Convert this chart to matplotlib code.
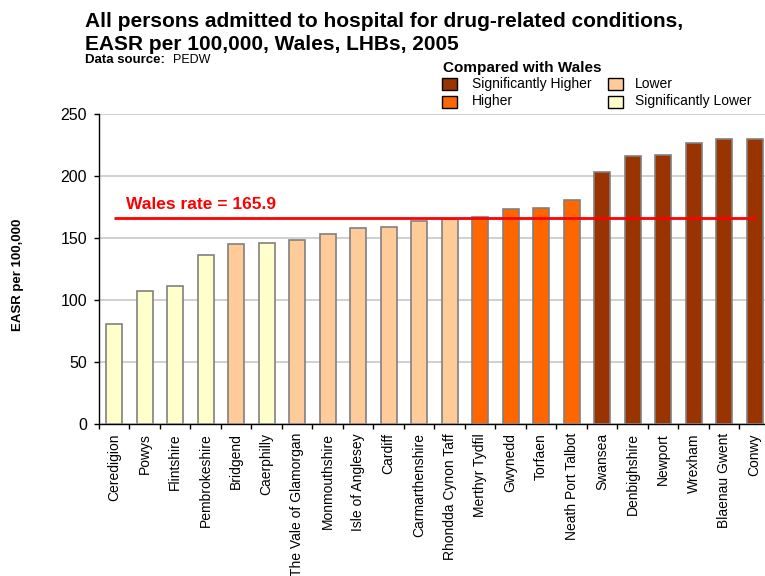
import matplotlib.pyplot as plt
import numpy as np
from matplotlib.patches import Rectangle

plt.rcParams['font.family'] = ['Liberation Sans', 'DejaVu Sans']

areas = ["Ceredigion", "Powys", "Flintshire", "Pembrokeshire", "Bridgend", "Caerphilly",
         "The Vale of Glamorgan", "Monmouthshire", "Isle of Anglesey", "Cardiff",
         "Carmarthenshire", "Rhondda Cynon Taff", "Merthyr Tydfil", "Gwynedd", "Torfaen",
         "Neath Port Talbot", "Swansea", "Denbighshire", "Newport", "Wrexham",
         "Blaenau Gwent", "Conwy"]
rates = [80.3, 107.1, 111.5, 136.6, 144.8, 145.6, 148.4, 153.2, 157.8, 158.6,
         164.0, 165.1, 167.0, 173.0, 173.8, 180.3, 203.0, 216.2, 217.3, 227.0,
         229.5, 229.5]
# 0 = significantly lower, 1 = lower, 2 = higher, 3 = significantly higher
groups = [0, 0, 0, 0, 1, 0, 1, 1, 1, 1, 1, 1, 2, 2, 2, 2, 3, 3, 3, 3, 3, 3]
group_names = ["Significantly Lower", "Lower", "Higher", "Significantly Higher"]
group_colours = ["#FFFFCC", "#FFCC99", "#FF6600", "#993300"]
wales_rate = 165.9

fig = plt.figure(figsize=(7.65, 5.76), dpi=100)
ax = fig.add_axes([0.1294, 0.2639, 0.877, 0.5382])

x = np.arange(len(areas))
ax.bar(x, rates, width=0.52, color=[group_colours[g] for g in groups],
       edgecolor="#808080", linewidth=1.2, zorder=3)

ax.plot([0, 21.05], [wales_rate, wales_rate], color="#FF0000", lw=2, zorder=4,
        solid_capstyle="butt")
ax.text(0.37, 167.5 + 6, "Wales rate = %.1f" % wales_rate, color="#FF0000",
        fontsize=12.5, fontweight="bold", va="baseline", zorder=5)

ax.set_xlim(-0.5, 21.5)
ax.set_ylim(0, 250)
ax.set_yticks(np.arange(0, 251, 50))
ax.yaxis.grid(True, color="#C8C8C8", lw=1.2)
ax.set_axisbelow(True)
ax.tick_params(axis="y", labelsize=11.5, length=3.5, direction="out", width=1, pad=5)
ax.set_xticks(x)
ax.set_xticklabels(areas, rotation=90, fontsize=10)
ax.tick_params(axis="x", length=0, pad=6.5)
ax.set_xticks(np.arange(-0.5, 22, 1), minor=True)
ax.tick_params(axis="x", which="minor", length=3.5, width=1, direction="out")
for s in ["top", "right"]:
    ax.spines[s].set_visible(False)
ax.spines["left"].set_linewidth(1)
ax.spines["bottom"].set_linewidth(1)
ax.set_ylabel("EASR per 100,000", fontsize=9.5, fontweight="bold")
ax.yaxis.set_label_coords(-0.112, 0.48)

fig.text(0.111, 0.953, "All persons admitted to hospital for drug-related conditions,",
         fontsize=15, fontweight="bold", va="baseline")
fig.text(0.111, 0.913, "EASR per 100,000, Wales, LHBs, 2005",
         fontsize=15, fontweight="bold", va="baseline")
fig.text(0.111, 0.891, "Data source:", fontsize=9.5, fontweight="bold", va="baseline")
fig.text(0.226, 0.891, "PEDW", fontsize=9, va="baseline")

# legend
fig.text(0.579, 0.875, "Compared with Wales", fontsize=11, fontweight="bold", va="baseline")
legend_order = [3, 1, 2, 0]
box_pos = [(0.578, 0.844), (0.795, 0.844), (0.578, 0.8125), (0.795, 0.8125)]
text_pos = [(0.617, 0.854), (0.830, 0.854), (0.617, 0.824), (0.830, 0.824)]
for g, (bx, by), (tx, ty) in zip(legend_order, box_pos, text_pos):
    fig.patches.append(Rectangle((bx, by), 0.0196, 0.0208, transform=fig.transFigure,
                                 facecolor=group_colours[g], edgecolor="black", lw=1))
    fig.text(tx, ty, group_names[g], fontsize=10, va="center")

fig.savefig("out.png", dpi=100)
